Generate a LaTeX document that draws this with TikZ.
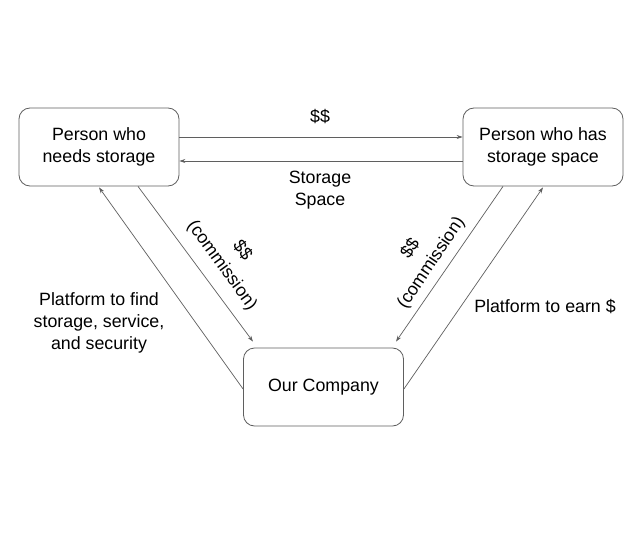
\documentclass[tikz,border=0pt]{standalone}
\usepackage{fontspec}
\setmainfont{Liberation Sans}
\usetikzlibrary{arrows.meta}
\definecolor{linegray}{HTML}{5F5F5F}
\begin{document}
\begin{tikzpicture}[x=1pt,y=-1pt,
  box/.style={draw=linegray, line width=0.8pt, rounded corners=11pt, minimum width=160pt, minimum height=78pt, align=center, inner sep=0pt, font=\fontsize{17.8}{22}\selectfont},
  lbl/.style={align=center, inner sep=0pt, font=\fontsize{17.8}{22}\selectfont},
  rlbl/.style={align=center, inner sep=0pt, font=\fontsize{17.8}{25}\selectfont},
  conn/.style={draw=linegray, line width=0.7pt, -{Stealth[length=6pt,width=4pt]}}]
\useasboundingbox (0,0) rectangle (642,540);
\fill[white] (0,0) rectangle (642,540);
\node[box] (L) at (99,147) {Person who\\needs storage};
\node[box] (R) at (543,147) {Person who has\\storage space};
\node[box] (B) at (323.5,387) {Our Company};
\draw[conn] ([yshift=10pt]L.east) -- ([yshift=10pt]R.west);
\draw[conn] ([yshift=-14pt]R.west) -- ([yshift=-14pt]L.east);
\draw[conn] ([xshift=39pt]L.south) -- ([xshift=-70.5pt,yshift=6pt]B.north);
\draw[conn] ([yshift=-2pt]B.west) -- ([yshift=-1pt]L.south);
\draw[conn] ([xshift=-40pt]R.south) -- ([xshift=72.5pt,yshift=6pt]B.north);
\draw[conn] ([yshift=-2pt]B.east) -- ([yshift=-1pt]R.south);
\node[lbl] (t1) at (320,117) {\$\$};
\node[lbl] (t2) at (320,190) {Storage\\Space};
\node[rlbl, rotate=-54] (t3) at (232,258) {\$\$\\(commission)};
\node[rlbl, rotate=56] (t4) at (421,256) {\$\$\\(commission)};
\node[lbl] (t5) at (99,323) {Platform to find\\storage, service,\\and security};
\node[lbl] (t6) at (545,307) {Platform to earn \$};
\end{tikzpicture}
\end{document}
